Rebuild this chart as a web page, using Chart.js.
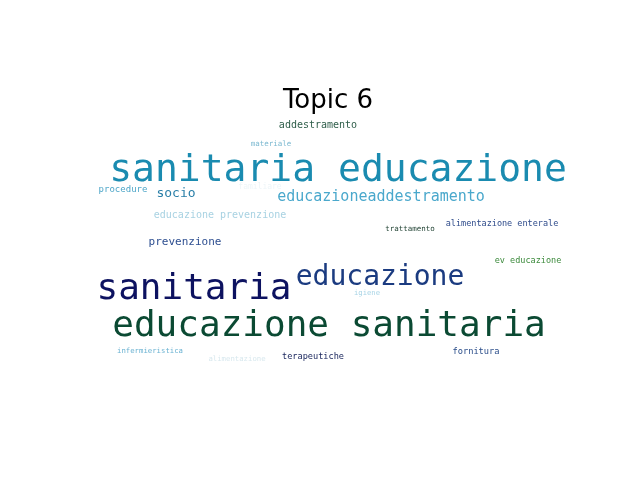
<!DOCTYPE html>
<html>
<head>
<meta charset="utf-8">
<script src="https://cdn.jsdelivr.net/npm/chart.js@4"></script>
<style>
  html, body { margin: 0; padding: 0; background: #fff; }
  #wrap { width: 640px; height: 480px; }
</style>
</head>
<body>
<div id="wrap"><canvas id="cloud"></canvas></div>
<script>
// Topic 6 word cloud
const words = ['sanitaria educazione', 'educazione sanitaria', 'sanitaria', 'educazione',
  'educazioneaddestramento', 'addestramento', 'materiale', 'procedure', 'socio', 'familiare',
  'educazione prevenzione', 'trattamento', 'alimentazione enterale', 'prevenzione',
  'ev educazione', 'igiene', 'infermieristica', 'alimentazione', 'terapeutiche', 'fornitura'];
const posX = [338, 329, 194, 380, 381, 318, 271, 123, 176, 260, 220, 410, 502, 185, 528, 367, 150, 237, 313, 476];
const posY = [171, 327, 290, 278, 197, 125, 144, 190, 194, 187, 215, 229, 224, 242, 261, 293, 351, 359, 357, 352];
const weights = [38, 36, 36, 28, 15, 10, 7.5, 9, 13, 8, 10, 7.5, 8.5, 11, 8.5, 7.2, 7.3, 7.3, 8.6, 8.7];
const colori = ['#1a8bb0', '#0b4a33', '#0d1260', '#1b3b80', '#4aa8cc', '#2f5e4a', '#7ab8d0',
  '#4ea6c8', '#2a7fa8', '#eef5f8', '#a8d2e2', '#1d3f30', '#2d4a8a', '#2d4e90', '#3c8a3c',
  '#a8d4e6', '#6ab2d2', '#d8e8ee', '#1e2a60', '#2a4d8a'];

const wordPlugin = {
  id: 'wordPlugin',
  afterDatasetsDraw(chart) {
    const ctx = chart.ctx;
    const xs = chart.scales.x, ys = chart.scales.y;
    ctx.save();
    ctx.textAlign = 'center';
    ctx.textBaseline = 'middle';
    words.forEach((w, i) => {
      ctx.font = weights[i] + 'px "DejaVu Sans Mono"';
      ctx.fillStyle = colori[i];
      ctx.fillText(w, xs.getPixelForValue(posX[i]), ys.getPixelForValue(posY[i]));
    });
    ctx.font = '26px "DejaVu Sans"';
    ctx.fillStyle = '#000';
    ctx.fillText('Topic 6', 328, 101);
    ctx.restore();
  }
};

new Chart(document.getElementById('cloud'), {
  type: 'scatter',
  data: {
    datasets: [{
      data: words.map((w, i) => ({ x: posX[i], y: posY[i] })),
      pointRadius: 0
    }]
  },
  options: {
    responsive: true,
    maintainAspectRatio: false,
    animation: false,
    layout: { padding: 0 },
    plugins: { legend: { display: false }, tooltip: { enabled: false } },
    scales: {
      x: { display: false, min: 0, max: 640 },
      y: { display: false, min: 0, max: 480, reverse: true }
    }
  },
  plugins: [wordPlugin]
});
</script>
</body>
</html>
